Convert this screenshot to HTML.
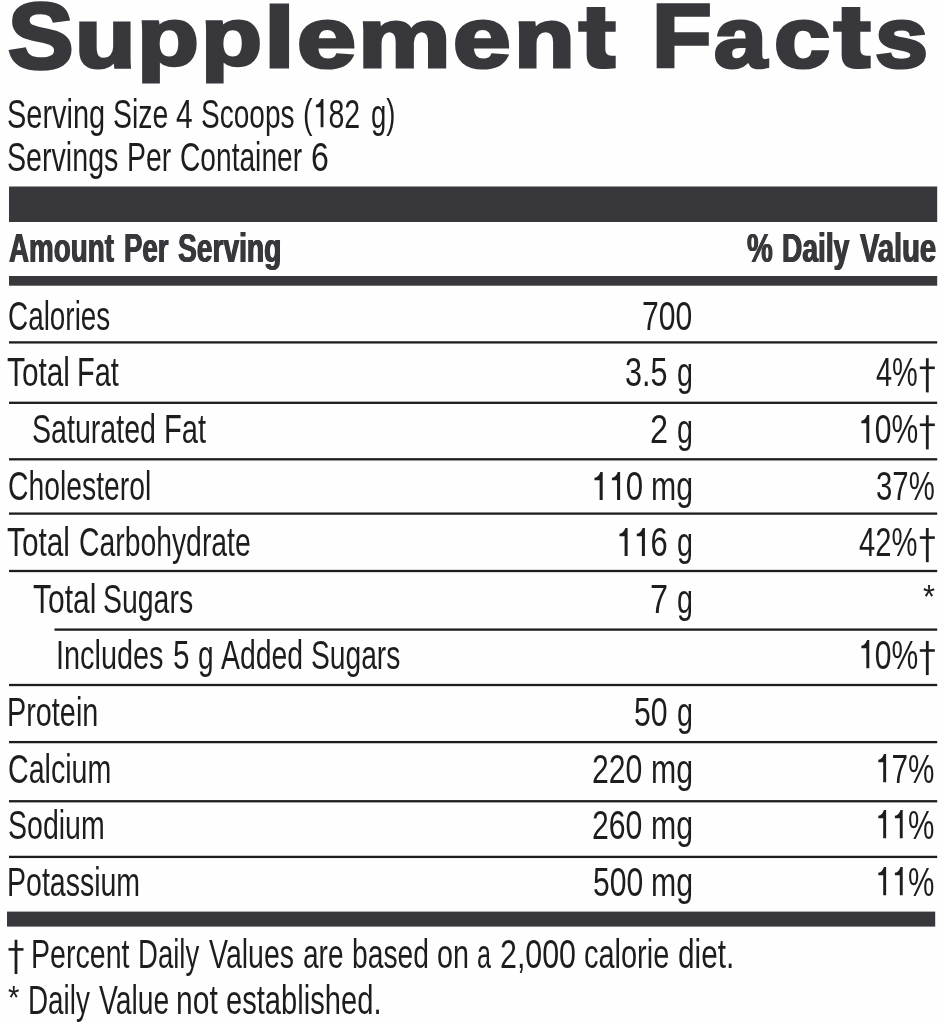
<!DOCTYPE html>
<html lang="en"><head><meta charset="utf-8"><title>Supplement Facts</title>
<style>
html,body{margin:0;padding:0;background:#fefefe;}
body{width:942px;height:1024px;position:relative;overflow:hidden;font-family:"Liberation Sans",sans-serif;color:#38383c;}
#label{position:absolute;left:0;top:0;width:942px;height:1024px;overflow:hidden;will-change:transform;}
.r{position:absolute;left:0;top:0}
.t{position:absolute;white-space:nowrap;line-height:1;transform-origin:0 0;font-family:"Liberation Sans",sans-serif;}
.n{font-size:41.2px;font-weight:400;color:#1d1d20;}
.h{font-size:41.0px;font-weight:700;color:#38383c;text-shadow:0.8px 0 0 #38383c,-0.8px 0 0 #38383c;}
.T{font-size:89.0px;font-weight:700;color:#38383c;-webkit-text-stroke:3.4px #38383c;}
.z{font-size:0}
.o{width:.556em;height:.688em;vertical-align:baseline;fill:currentColor}
</style></head><body><div id="label">
<!-- bars, rules and daggers -->
<svg class="r" width="942" height="1024" viewBox="0 0 942 1024">
<g fill="#38383c"><rect x="9" y="186.5" width="928.2" height="35.5"/><rect x="9" y="276" width="928.2" height="9.7"/><rect x="7" y="911.6" width="928.2" height="15"/></g>
<g fill="#1d1d20"><rect x="9" y="341.25" width="928.2" height="2.3"/><rect x="9" y="401.65" width="928.2" height="2.3"/><rect x="9" y="458.15" width="928.2" height="2.3"/><rect x="9" y="512.45" width="928.2" height="2.3"/><rect x="9" y="569.85" width="928.2" height="2.3"/><rect x="54.5" y="628.45" width="882.7" height="2.3"/><rect x="9" y="683.85" width="928.2" height="2.3"/><rect x="9" y="740.95" width="928.2" height="2.3"/><rect x="9" y="800.10" width="928.2" height="2.3"/><rect x="9" y="855.75" width="928.2" height="2.3"/></g>
<g fill="#1d1d20"><rect x="925.90" y="358.20" width="2.8" height="34.2"/><rect x="919.80" y="366.50" width="15" height="2.6"/><rect x="925.90" y="415.20" width="2.8" height="34.2"/><rect x="919.80" y="423.50" width="15" height="2.6"/><rect x="925.90" y="528.00" width="2.8" height="34.2"/><rect x="919.80" y="536.30" width="15" height="2.6"/><rect x="925.90" y="640.90" width="2.8" height="34.2"/><rect x="919.80" y="649.20" width="15" height="2.6"/><rect x="14.60" y="939.80" width="2.8" height="34.2"/><rect x="8.50" y="948.10" width="15" height="2.6"/></g>
</svg>
<!-- title -->
<span class="t T" style="left:7.66px;top:-9.72px;transform:scale(1.1035,1.0342)">S</span>
<span class="t T" style="left:74.71px;top:-2.82px;transform:scale(1.1143,0.9312)">u</span>
<span class="t T" style="left:137.45px;top:-2.62px;transform:scale(1.1379,0.9086)">p</span>
<span class="t T" style="left:201.01px;top:-2.62px;transform:scale(1.1234,0.9086)">p</span>
<span class="t T" style="left:263.69px;top:-4.42px;transform:scale(1.2457,0.9485)">l</span>
<span class="t T" style="left:296.81px;top:-4.16px;transform:scale(1.1914,0.9497)">e</span>
<span class="t T" style="left:357.82px;top:-3.24px;transform:scale(1.1706,0.9331)">m</span>
<span class="t T" style="left:453.36px;top:-4.16px;transform:scale(1.1655,0.9497)">e</span>
<span class="t T" style="left:514.03px;top:-3.24px;transform:scale(1.1186,0.9331)">n</span>
<span class="t" style="left:577.6px;top:7.2px;font-size:0;line-height:0"><i class="z">t</i><svg width="38" height="62.2" viewBox="0 0 38 62.2" style="display:block;fill:#38383c"><path d="M8.65,0H27.3V14.3H37.7V24.8H27.3V42.3Q27.3,48.7 33.4,48.7H37.7V61.3Q32.4,62 23.4,62Q8.65,62 8.65,47.8V24.8H0.2V14.3H8.65Z"/></svg></span>
<span class="t T" style="left:651.85px;top:-8.17px;transform:scale(1.0966,0.9974)">F</span>
<span class="t T" style="left:713.53px;top:-4.16px;transform:scale(1.0678,0.9497)">a</span>
<span class="t T" style="left:773.91px;top:-4.16px;transform:scale(1.1319,0.9497)">c</span>
<span class="t" style="left:833.2px;top:7.2px;font-size:0;line-height:0"><i class="z">t</i><svg width="38" height="62.2" viewBox="0 0 38 62.2" style="display:block;fill:#38383c"><path d="M8.65,0H27.3V14.3H37.7V24.8H27.3V42.3Q27.3,48.7 33.4,48.7H37.7V61.3Q32.4,62 23.4,62Q8.65,62 8.65,47.8V24.8H0.2V14.3H8.65Z"/></svg></span>
<span class="t T" style="left:875.13px;top:-4.16px;transform:scale(1.0714,0.9497)">s</span>
<!-- body text -->
<span class="t n" style="left:6.99px;top:93.52px;transform:scaleX(0.7030)">Serving </span>
<span class="t n" style="left:112.62px;top:93.52px;transform:scaleX(0.6904)">Size </span>
<span class="t n" style="left:176.27px;top:93.52px;transform:scaleX(0.7258)">4 </span>
<span class="t n" style="left:200.74px;top:93.52px;transform:scaleX(0.6806)">Scoops </span>
<span class="t n" style="left:303.45px;top:93.52px;transform:scaleX(0.6940)">(<i class="z">1</i><svg class="o" viewBox="0 0 556 688"><path d="M375,0V688H277V200H112V140Q250,128 300,0Z"/></svg>82 </span>
<span class="t n" style="left:370.69px;top:93.52px;transform:scaleX(0.6680)">g) </span>
<span class="t n" style="left:7.01px;top:136.52px;transform:scaleX(0.6951)">Servings </span>
<span class="t n" style="left:126.70px;top:136.52px;transform:scaleX(0.6900)">Per </span>
<span class="t n" style="left:179.93px;top:136.52px;transform:scaleX(0.6835)">Container </span>
<span class="t n" style="left:310.84px;top:136.52px;transform:scaleX(0.7789)">6 </span>
<span class="t h" style="left:8.77px;top:228.19px;transform:scaleX(0.6782)">Amount </span>
<span class="t h" style="left:124.35px;top:228.19px;transform:scaleX(0.6731)">Per </span>
<span class="t h" style="left:178.07px;top:228.19px;transform:scaleX(0.6872)">Serving </span>
<span class="t h" style="left:746.66px;top:228.19px;transform:scaleX(0.7083)">% </span>
<span class="t h" style="left:782.33px;top:228.19px;transform:scaleX(0.6869)">Daily </span>
<span class="t h" style="left:859.64px;top:228.19px;transform:scaleX(0.7106)">Value </span>
<span class="t n" style="left:7.65px;top:295.52px;transform:scaleX(0.6772)">Calories </span>
<span class="t n" style="left:641.54px;top:295.52px;transform:scaleX(0.7308)">700 </span>
<span class="t n" style="left:7.28px;top:352.22px;transform:scaleX(0.7224)">Total </span>
<span class="t n" style="left:77.36px;top:352.22px;transform:scaleX(0.7018)">Fat </span>
<span class="t n" style="left:625.16px;top:352.22px;transform:scaleX(0.7426)">3.5 </span>
<span class="t n" style="left:676.64px;top:352.22px;transform:scaleX(0.6964)">g </span>
<span class="t n" style="left:876.05px;top:352.22px;transform:scaleX(0.7018)">4% </span>
<span class="t n" style="left:31.91px;top:409.22px;transform:scaleX(0.6943)">Saturated </span>
<span class="t n" style="left:163.54px;top:409.22px;transform:scaleX(0.7071)">Fat </span>
<span class="t n" style="left:649.92px;top:409.22px;transform:scaleX(0.7895)">2 </span>
<span class="t n" style="left:676.64px;top:409.22px;transform:scaleX(0.6964)">g </span>
<span class="t n" style="left:857.59px;top:409.22px;transform:scaleX(0.7303)"><i class="z">1</i><svg class="o" viewBox="0 0 556 688"><path d="M375,0V688H277V200H112V140Q250,128 300,0Z"/></svg>0% </span>
<span class="t n" style="left:7.63px;top:466.02px;transform:scaleX(0.6874)">Cholesterol </span>
<span class="t n" style="left:590.97px;top:466.02px;transform:scaleX(0.7572)"><i class="z">1</i><svg class="o" viewBox="0 0 556 688"><path d="M375,0V688H277V200H112V140Q250,128 300,0Z"/></svg><i class="z">1</i><svg class="o" viewBox="0 0 556 688"><path d="M375,0V688H277V200H112V140Q250,128 300,0Z"/></svg>0 </span>
<span class="t n" style="left:650.64px;top:466.02px;transform:scaleX(0.7346)">mg </span>
<span class="t n" style="left:875.81px;top:466.02px;transform:scaleX(0.7122)">37% </span>
<span class="t n" style="left:7.28px;top:522.02px;transform:scaleX(0.7224)">Total </span>
<span class="t n" style="left:78.82px;top:522.02px;transform:scaleX(0.6881)">Carbohydrate </span>
<span class="t n" style="left:616.09px;top:522.02px;transform:scaleX(0.7524)"><i class="z">1</i><svg class="o" viewBox="0 0 556 688"><path d="M375,0V688H277V200H112V140Q250,128 300,0Z"/></svg><i class="z">1</i><svg class="o" viewBox="0 0 556 688"><path d="M375,0V688H277V200H112V140Q250,128 300,0Z"/></svg>6 </span>
<span class="t n" style="left:676.64px;top:522.02px;transform:scaleX(0.6964)">g </span>
<span class="t n" style="left:859.29px;top:522.02px;transform:scaleX(0.7094)">42% </span>
<span class="t n" style="left:32.57px;top:579.02px;transform:scaleX(0.7284)">Total </span>
<span class="t n" style="left:103.42px;top:579.02px;transform:scaleX(0.6906)">Sugars </span>
<span class="t n" style="left:649.92px;top:579.02px;transform:scaleX(0.7895)">7 </span>
<span class="t n" style="left:676.64px;top:579.02px;transform:scaleX(0.6964)">g </span>
<span class="t n" style="left:56.33px;top:634.77px;transform:scaleX(0.7011)">Includes </span>
<span class="t n" style="left:172.60px;top:634.77px;transform:scaleX(0.7220)">5 </span>
<span class="t n" style="left:197.67px;top:634.77px;transform:scaleX(0.6804)">g </span>
<span class="t n" style="left:221.40px;top:634.77px;transform:scaleX(0.6894)">Added </span>
<span class="t n" style="left:311.03px;top:634.77px;transform:scaleX(0.6843)">Sugars </span>
<span class="t n" style="left:857.59px;top:634.77px;transform:scaleX(0.7303)"><i class="z">1</i><svg class="o" viewBox="0 0 556 688"><path d="M375,0V688H277V200H112V140Q250,128 300,0Z"/></svg>0% </span>
<span class="t n" style="left:6.67px;top:692.02px;transform:scaleX(0.6997)">Protein </span>
<span class="t n" style="left:633.98px;top:692.02px;transform:scaleX(0.7336)">50 </span>
<span class="t n" style="left:676.64px;top:692.02px;transform:scaleX(0.6964)">g </span>
<span class="t n" style="left:7.61px;top:748.52px;transform:scaleX(0.6944)">Calcium </span>
<span class="t n" style="left:592.33px;top:748.52px;transform:scaleX(0.7338)">220 </span>
<span class="t n" style="left:650.64px;top:748.52px;transform:scaleX(0.7346)">mg </span>
<span class="t n" style="left:875.14px;top:748.52px;transform:scaleX(0.7205)"><i class="z">1</i><svg class="o" viewBox="0 0 556 688"><path d="M375,0V688H277V200H112V140Q250,128 300,0Z"/></svg>7% </span>
<span class="t n" style="left:7.61px;top:804.77px;transform:scaleX(0.6926)">Sodium </span>
<span class="t n" style="left:592.33px;top:804.77px;transform:scaleX(0.7338)">260 </span>
<span class="t n" style="left:650.64px;top:804.77px;transform:scaleX(0.7346)">mg </span>
<span class="t n" style="left:875.14px;top:804.77px;transform:scaleX(0.7205)"><i class="z">1</i><svg class="o" viewBox="0 0 556 688"><path d="M375,0V688H277V200H112V140Q250,128 300,0Z"/></svg><i class="z">1</i><svg class="o" viewBox="0 0 556 688"><path d="M375,0V688H277V200H112V140Q250,128 300,0Z"/></svg>% </span>
<span class="t n" style="left:6.69px;top:861.52px;transform:scaleX(0.6923)">Potassium </span>
<span class="t n" style="left:592.58px;top:861.52px;transform:scaleX(0.7301)">500 </span>
<span class="t n" style="left:650.64px;top:861.52px;transform:scaleX(0.7346)">mg </span>
<span class="t n" style="left:875.14px;top:861.52px;transform:scaleX(0.7205)"><i class="z">1</i><svg class="o" viewBox="0 0 556 688"><path d="M375,0V688H277V200H112V140Q250,128 300,0Z"/></svg><i class="z">1</i><svg class="o" viewBox="0 0 556 688"><path d="M375,0V688H277V200H112V140Q250,128 300,0Z"/></svg>% </span>
<span class="t n" style="left:31.49px;top:933.82px;transform:scaleX(0.6940)">Percent </span>
<span class="t n" style="left:138.17px;top:933.82px;transform:scaleX(0.6682)">Daily </span>
<span class="t n" style="left:209.07px;top:933.82px;transform:scaleX(0.6926)">Values </span>
<span class="t n" style="left:302.57px;top:933.82px;transform:scaleX(0.6804)">are </span>
<span class="t n" style="left:352.47px;top:933.82px;transform:scaleX(0.6860)">based </span>
<span class="t n" style="left:437.34px;top:933.82px;transform:scaleX(0.6968)">on </span>
<span class="t n" style="left:477.28px;top:933.82px;transform:scaleX(0.6094)">a </span>
<span class="t n" style="left:500.13px;top:933.82px;transform:scaleX(0.7369)">2,000 </span>
<span class="t n" style="left:584.13px;top:933.82px;transform:scaleX(0.7028)">calorie </span>
<span class="t n" style="left:677.60px;top:933.82px;transform:scaleX(0.7217)">diet. </span>
<span class="t n" style="left:27.95px;top:979.82px;transform:scaleX(0.6761)">Daily </span>
<span class="t n" style="left:99.47px;top:979.82px;transform:scaleX(0.6870)">Value </span>
<span class="t n" style="left:176.46px;top:979.82px;transform:scaleX(0.7288)">not </span>
<span class="t n" style="left:225.62px;top:979.82px;transform:scaleX(0.7073)">established. </span>
<span class="t n" style="left:923.20px;top:579.53px;transform:scale(0.7500,0.8233)">* </span>
<span class="t n" style="left:8.02px;top:981.27px;transform:scale(0.7159,0.8163)">* </span>
</div></body></html>
